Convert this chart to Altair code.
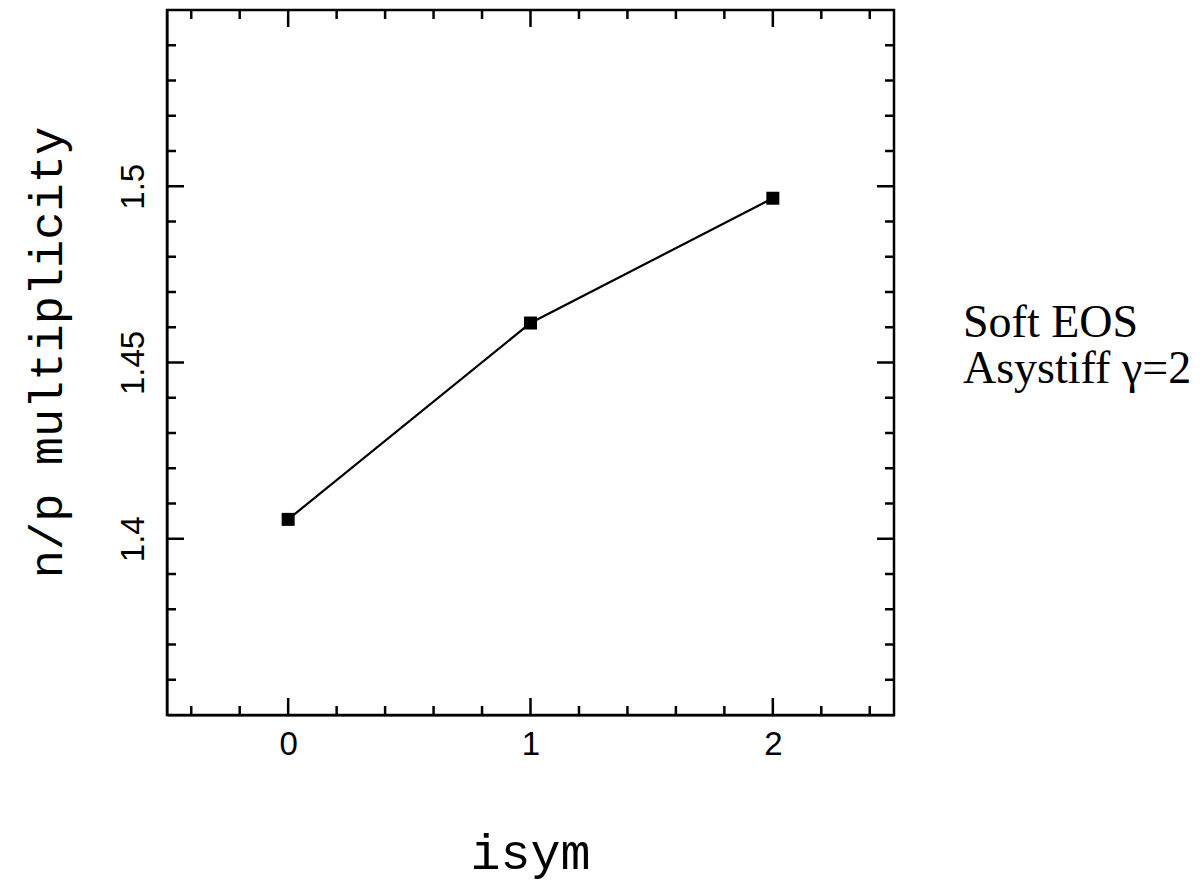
import altair as alt
import pandas as pd

# data
isym = [0, 1, 2]
np_ratio = [1.4055, 1.4612, 1.4966]

x_major = [0, 1, 2]
x_minor = [-0.4, -0.2, 0.2, 0.4, 0.6, 0.8, 1.2, 1.4, 1.6, 1.8, 2.2, 2.4]
y_major = [1.40, 1.45, 1.50]
y_minor = [1.36, 1.37, 1.38, 1.39, 1.41, 1.42, 1.43, 1.44, 1.46, 1.47, 1.48,
           1.49, 1.51, 1.52, 1.53, 1.54]
annotation = "Soft EOS\nAsystiff \u03b3=2"

W, H = 727, 705
MAJ, MIN = 17, 9

xs = alt.Scale(domain=[-0.5, 2.5], nice=False, zero=False)
ys = alt.Scale(domain=[1.35, 1.55], nice=False, zero=False)

df = pd.DataFrame({"isym": isym, "ratio": np_ratio})

x_axis = alt.Axis(values=x_major, ticks=False, grid=False, domainColor="black",
                  domainWidth=2, labelFont="Liberation Sans", labelFontSize=33,
                  labelColor="black", labelPadding=13, format="d", title="isym",
                  titleFont="Liberation Mono", titleFontSize=50,
                  titleFontWeight="normal", titleColor="black",
                  titleX=363, titleY=153, titleBaseline="alphabetic",
                  titleAlign="center")
y_axis = alt.Axis(values=y_major, ticks=False, grid=False, domainColor="black",
                  domainWidth=2, labelFont="Liberation Sans", labelFontSize=33,
                  labelColor="black", labelAngle=270, labelAlign="center",
                  labelBaseline="alphabetic", labelPadding=24,
                  format="~g", title="n/p multiplicity",
                  titleFont="Liberation Mono", titleFontSize=47,
                  titleFontWeight="normal", titleColor="black",
                  titleAngle=270, titleX=-106, titleY=342,
                  titleAlign="center", titleBaseline="alphabetic")

base = alt.Chart(df)
line = base.mark_line(color="black", strokeWidth=2.2).encode(
    x=alt.X("isym:Q", scale=xs, axis=x_axis),
    y=alt.Y("ratio:Q", scale=ys, axis=y_axis),
)
pts = base.mark_square(color="black", size=169, opacity=1).encode(
    x=alt.X("isym:Q", scale=xs), y=alt.Y("ratio:Q", scale=ys))


def xticks(vals, length):
    d = alt.Chart(pd.DataFrame({"v": vals}))
    bot = d.mark_rule(color="black", strokeWidth=2.5).encode(
        x=alt.X("v:Q", scale=xs), y=alt.value(H), y2=alt.value(H - length))
    top = d.mark_rule(color="black", strokeWidth=2.5).encode(
        x=alt.X("v:Q", scale=xs), y=alt.value(0), y2=alt.value(length))
    return bot + top


def yticks(vals, length):
    d = alt.Chart(pd.DataFrame({"v": vals}))
    left = d.mark_rule(color="black", strokeWidth=2.5).encode(
        y=alt.Y("v:Q", scale=ys), x=alt.value(0), x2=alt.value(length))
    right = d.mark_rule(color="black", strokeWidth=2.5).encode(
        y=alt.Y("v:Q", scale=ys), x=alt.value(W), x2=alt.value(W - length))
    return left + right


ann = alt.Chart(pd.DataFrame({"t": [annotation]})).mark_text(
    align="left", baseline="alphabetic", font="Liberation Serif", fontSize=46,
    lineBreak="\n", lineHeight=46, color="black"
).encode(text="t:N", x=alt.value(796), y=alt.value(327))

chart = alt.layer(
    line, pts,
    xticks(x_major, MAJ), xticks(x_minor, MIN),
    yticks(y_major, MAJ), yticks(y_minor, MIN),
    ann,
).properties(
    width=W, height=H,
    autosize=alt.AutoSizeParams(type="none"),
    padding={"left": 167, "top": 10, "right": 310, "bottom": 167},
    background="white",
).configure_view(stroke="black", strokeWidth=2.5)

chart.save("out.html", embed_options={"renderer": "svg", "actions": False})
